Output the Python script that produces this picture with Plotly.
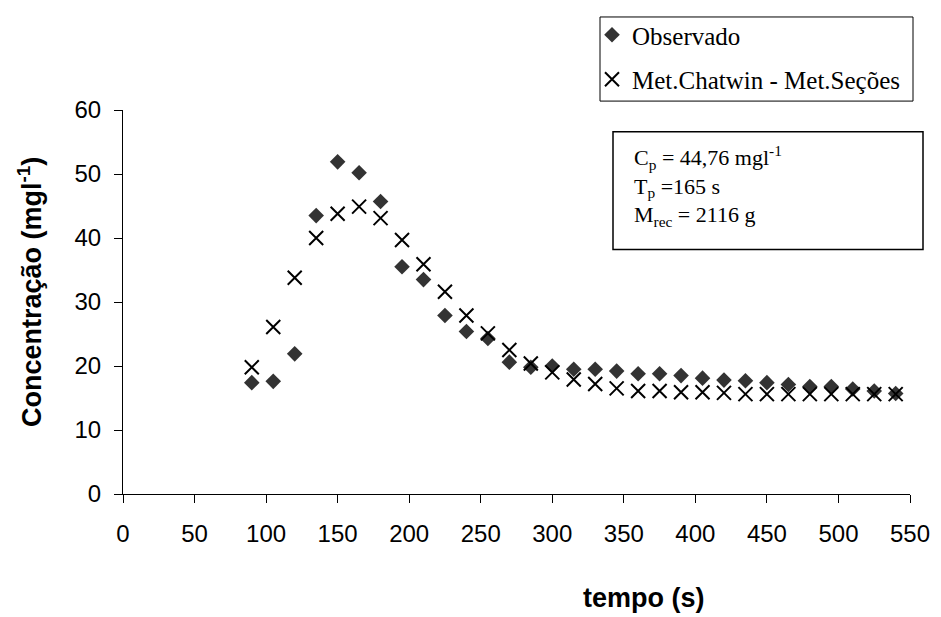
import plotly.graph_objects as go

# ---- data ----
tempo = list(range(90, 541, 15))
observado = [17.4, 17.6, 21.9, 43.5, 51.9, 50.2, 45.7, 35.5, 33.5, 27.9,
             25.4, 24.3, 20.6, 19.8, 20.0, 19.5, 19.5, 19.2, 18.8, 18.8,
             18.5, 18.1, 17.8, 17.7, 17.4, 17.1, 16.8, 16.8, 16.4, 16.1, 15.7]
chatwin = [19.8, 26.1, 33.8, 40.0, 43.8, 44.9, 43.1, 39.7, 35.9, 31.6,
           27.9, 25.1, 22.5, 20.4, 19.0, 17.9, 17.2, 16.5, 16.1, 16.1,
           15.9, 15.9, 15.8, 15.6, 15.6, 15.6, 15.6, 15.6, 15.6, 15.6, 15.6]
x_ticks = list(range(0, 551, 50))
y_ticks = list(range(0, 61, 10))

# ---- layout geometry ----
W, H = 941, 617
L, R, T, B = 123, 31, 106, 123
pw = W - L - R
ph = H - T - B


def px(x):
    return (x - L) / pw


def py(y):
    return (H - B - y) / ph


SANS = "Liberation Sans, Arial, sans-serif"
SERIF = "Liberation Serif, Times New Roman, serif"

fig = go.Figure()
fig.add_trace(go.Scatter(
    x=tempo, y=observado, mode="markers", name="Observado",
    legendgroup="a",
    marker=dict(symbol="diamond", size=12, color="#333333", line=dict(width=0)),
))
fig.add_trace(go.Scatter(
    x=tempo, y=chatwin, mode="markers", name="Met.Chatwin - Met.Seções",
    legendgroup="b",
    marker=dict(symbol="x-thin", size=14, color="black",
                line=dict(width=2, color="black")),
))

axis_common = dict(
    showline=True, linecolor="black", linewidth=1,
    ticks="outside", ticklen=8, tickcolor="black", tickwidth=1,
    showgrid=False, zeroline=False,
    tickfont=dict(family=SANS, size=24, color="black"),
)

fig.update_layout(
    width=W, height=H,
    margin=dict(l=L, r=R, t=T, b=B, pad=0),
    paper_bgcolor="white", plot_bgcolor="white",
    xaxis=dict(range=[0, 550], tickvals=x_ticks, ticklabelstandoff=10, **axis_common),
    yaxis=dict(range=[0, 60], tickvals=y_ticks, ticklabelstandoff=8, **axis_common),
    showlegend=True,
    legend=dict(
        x=px(592), y=py(7), xanchor="left", yanchor="top",
        borderwidth=0, bgcolor="rgba(0,0,0,0)",
        font=dict(family=SERIF, size=25, color="black"),
        tracegroupgap=9, itemwidth=30,
    ),
    shapes=[
        dict(
            type="rect", xref="paper", yref="paper",
            x0=px(600), x1=px(913), y0=py(97), y1=py(12),
            line=dict(color="black", width=1), fillcolor="rgba(0,0,0,0)",
        ),
        dict(
            type="rect", xref="paper", yref="paper",
            x0=px(613), x1=px(923), y0=py(247), y1=py(128),
            line=dict(color="black", width=1.5), fillcolor="rgba(0,0,0,0)",
        ),
    ],
    annotations=[
        dict(
            xref="paper", yref="paper", x=px(632), y=py(136),
            xanchor="left", yanchor="top", align="left", showarrow=False,
            text="C<sub>p</sub> = 44,76 mgl<sup>-1</sup><br>T<sub>p</sub> =165 s<br>M<sub>rec</sub> = 2116 g",
            font=dict(family=SERIF, size=22, color="black"),
        ),
        dict(
            xref="paper", yref="paper", x=px(644), y=py(599),
            xanchor="center", yanchor="middle", showarrow=False,
            text="<b>tempo (s)</b>",
            font=dict(family=SANS, size=27, color="black"),
        ),
        dict(
            xref="paper", yref="paper", x=px(30), y=py(290),
            xanchor="center", yanchor="middle", showarrow=False, textangle=-90,
            text="<b>Concentração (mgl<sup>-1</sup>)</b>",
            font=dict(family=SANS, size=27, color="black"),
        ),
    ],
)

fig.write_html("out.html")
